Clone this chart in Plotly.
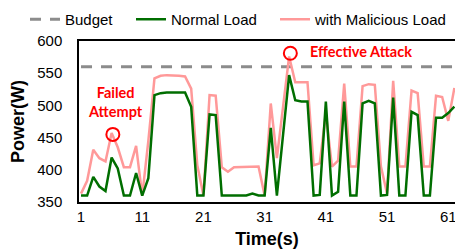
import plotly.graph_objects as go

time_s = list(range(1, 63))
normal_load = [360, 360, 389, 374, 367, 419, 402, 360, 360, 395,
               360, 387, 516, 519, 520, 520, 520, 520, 498, 360,
               360, 486, 485, 360, 360, 360, 360, 360, 363, 360,
               360, 465, 360, 450, 547, 508, 506, 506, 360, 361,
               506, 360, 366, 506, 360, 360, 503, 507, 503, 360,
               361, 512, 360, 360, 490, 485, 360, 360, 481, 481,
               488, 498]
malicious_load = [363, 383, 431, 418, 413, 457, 435, 404, 404, 437,
                  360, 445, 542, 546, 547, 547, 546, 545, 526, 407,
                  360, 516, 515, 404, 397, 404, 404, 404, 405, 405,
                  360, 503, 418, 497, 576, 536, 536, 536, 407, 410,
                  488, 405, 414, 534, 405, 405, 530, 533, 532, 405,
                  363, 538, 405, 405, 523, 519, 405, 405, 515, 513,
                  476, 527]
budget = [560] * len(time_s)
x_ticks = [1, 11, 21, 31, 41, 51, 61]
y_ticks = [350, 400, 450, 500, 550, 600]
circle_t = [6.2, 35.2]
circle_p = [455, 581]
labels = ["Failed<br>Attempt", "Effective Attack"]
label_t = [6.56, 46.75]
label_p = [506, 583]

fig = go.Figure()
fig.add_trace(go.Scatter(x=time_s, y=budget, mode="lines", name="Budget",
                         line=dict(color="#8c8c8c", width=3, dash="11px,9px"),
                         legend="legend"))
fig.add_trace(go.Scatter(x=time_s, y=malicious_load, mode="lines", name="with Malicious Load",
                         line=dict(color="#ff9999", width=2.5),
                         legend="legend3"))
fig.add_trace(go.Scatter(x=time_s, y=normal_load, mode="lines", name="Normal Load",
                         line=dict(color="#006e00", width=2.5),
                         legend="legend2"))
fig.add_trace(go.Scatter(x=circle_t, y=circle_p, mode="markers", showlegend=False,
                         marker=dict(symbol="circle-open", size=13, color="#ff0000",
                                     line=dict(width=2, color="#ff0000"))))
for txt, tx, ty in zip(labels, label_t, label_p):
    fig.add_annotation(x=tx, y=ty, text=txt, showarrow=False, xanchor="center", yanchor="middle",
                       font=dict(family="Lato", size=14.5, color="#ff0000", weight="bold"))

def leg(xpx):
    return dict(orientation="h", xref="container", yref="container", x=xpx / 455, y=0.988,
                xanchor="left", yanchor="top", font=dict(size=15),
                bgcolor="rgba(0,0,0,0)")

fig.update_layout(
    width=455, height=249,
    margin=dict(l=79, r=0, t=41, b=47, autoexpand=False),
    paper_bgcolor="white", plot_bgcolor="white",
    font=dict(family="Liberation Sans, Arial", size=15, color="#000"),
    showlegend=True,
    legend=leg(25), legend2=leg(131), legend3=leg(275),
)
fig.update_xaxes(range=[0.67, 62.1], tickvals=x_ticks, showgrid=False, zeroline=False,
                 showline=True, linecolor="#000", linewidth=1.5, mirror=True, ticks="",
                 automargin=False, ticklabeloverflow="allow",
                 title=dict(text="<b>Time(s)</b>", font=dict(size=18), standoff=15))
fig.update_yaxes(range=[350, 600], tickvals=y_ticks, showgrid=False, zeroline=False,
                 showline=True, linecolor="#000", linewidth=1.5, ticks="", ticklabelstandoff=12,
                 automargin=False,
                 title=dict(text="<b>Power(W)</b>", font=dict(size=18), standoff=8))

fig.write_html("out.html", config={"displayModeBar": False},
               post_script="document.body.style.margin='0';")
